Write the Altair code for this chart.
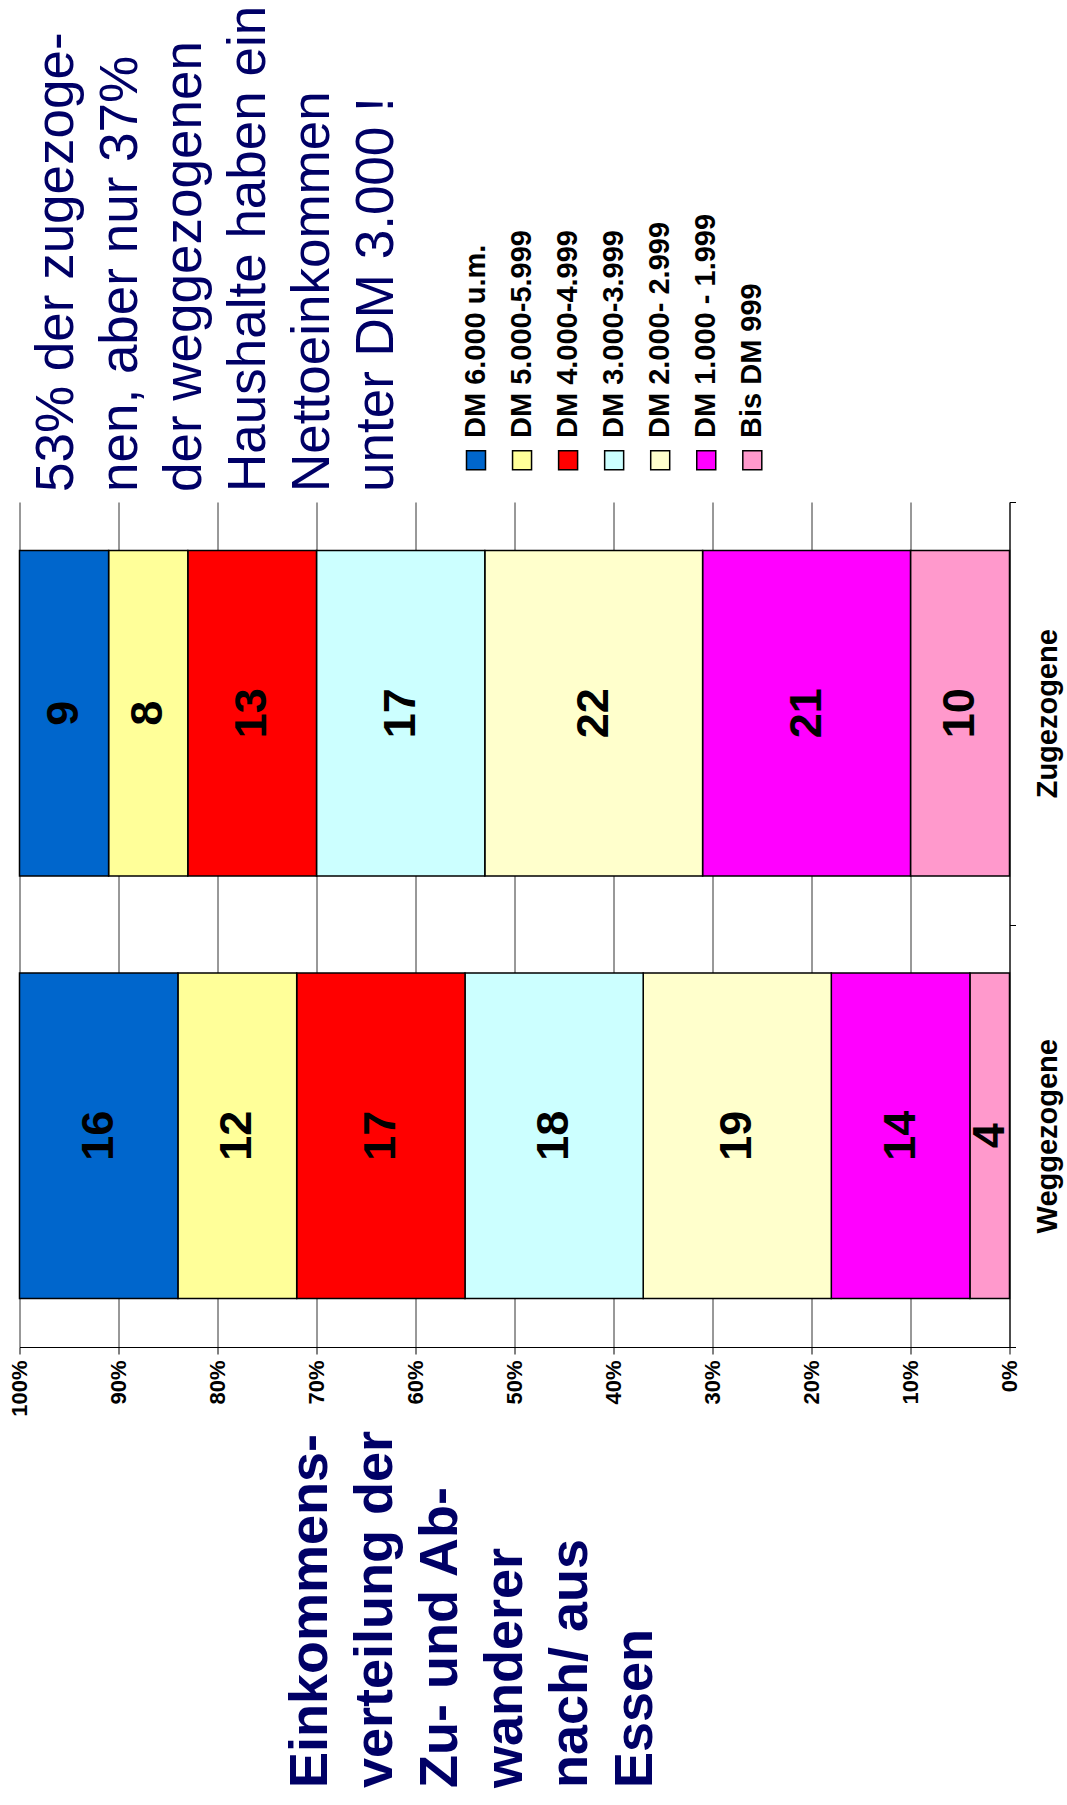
import altair as alt
import pandas as pd

# ---------------- data ----------------
CATEGORIES = ["Zugezogene", "Weggezogene"]
BRACKETS = ["DM 6.000 u.m.", "DM 5.000-5.999", "DM 4.000-4.999", "DM 3.000-3.999",
            "DM 2.000- 2.999", "DM 1.000 - 1.999", "Bis DM 999"]
COLORS = ["#0066CC", "#FFFF99", "#FF0000", "#CCFFFF", "#FFFFCC", "#FF00FF", "#FF99CC"]
ZUGEZOGENE = [9, 8, 13, 17, 22, 21, 10]
WEGGEZOGENE = [16, 12, 17, 18, 19, 14, 4]
PCT_TICKS = [0, 10, 20, 30, 40, 50, 60, 70, 80, 90, 100]
NOTE_LINES = ["53% der zugezoge-", "nen, aber nur 37%", "der weggezogenen",
              "Haushalte haben ein", "Nettoeinkommen", "unter DM 3.000 !"]
TITLE_LINES = ["Einkommens-", "verteilung der", "Zu- und Ab-", "wanderer",
               "nach/ aus", "Essen"]

FONT = "Liberation Sans"
NAVY = "#000066"

# stacked table (stack starts at 0% with "Bis DM 999")
rows = []
for cat, vals in zip(CATEGORIES, [ZUGEZOGENE, WEGGEZOGENE]):
    acc = 0
    for b, v in reversed(list(zip(BRACKETS, vals))):
        rows.append({"cat": cat, "bracket": b, "value": v,
                     "start": acc, "end": acc + v, "mid": acc + v / 2})
        acc += v
df = pd.DataFrame(rows)
legend_df = pd.DataFrame({"bracket": BRACKETS})

color_scale = alt.Scale(domain=BRACKETS, range=COLORS)
x_scale = alt.Scale(domain=[0, 100], reverse=True, nice=False, zero=True)
y_scale = alt.Scale(domain=CATEGORIES, paddingInner=0, paddingOuter=0)

x_axis = alt.Axis(values=PCT_TICKS, labelExpr="datum.value + '%'",
                  labelAngle=270, labelAlign="right", labelBaseline="middle",
                  labelFont=FONT, labelFontSize=22, labelFontWeight="bold",
                  labelColor="black", labelPadding=6,
                  domainColor="black", domainWidth=1,
                  tickColor="black", tickSize=7, tickWidth=1,
                  grid=True, gridColor="#333333", gridWidth=1)
y_axis = alt.Axis(orient="right", labelAngle=270, labelAlign="center",
                  labelBaseline="top", labelFont=FONT, labelFontSize=29,
                  labelFontWeight="bold", labelColor="black", labelPadding=18,
                  labelLimit=0,
                  domainColor="black", domainWidth=1,
                  tickColor="black", tickSize=6, tickBand="extent",
                  grid=False)

bars = alt.Chart(df).mark_bar(stroke="black", strokeWidth=1.5, opacity=1,
                              height=alt.RelativeBandSize(band=0.77)).encode(
    x=alt.X("start:Q", scale=x_scale, title=None, axis=x_axis),
    x2="end:Q",
    y=alt.Y("cat:N", sort=CATEGORIES, scale=y_scale, title=None, axis=y_axis),
    color=alt.Color("bracket:N", scale=color_scale, legend=None),
)

labels = alt.Chart(df).mark_text(angle=270, align="center", baseline="middle",
                                 font=FONT, fontSize=45, fontWeight="bold",
                                 color="black").encode(
    x=alt.X("mid:Q", scale=x_scale, title=None, axis=x_axis),
    y=alt.Y("cat:N", sort=CATEGORIES, scale=y_scale, title=None, axis=y_axis),
    text=alt.Text("value:Q"),
)

main = alt.layer(bars, labels)

leg_x = alt.X("bracket:N", sort=BRACKETS,
              scale=alt.Scale(type="point", domain=BRACKETS,
                              range=[456.5, 732.8], padding=0),
              axis=None)

leg_sq = alt.Chart(legend_df).mark_square(size=361, stroke="black", strokeWidth=1.5,
                                          opacity=1, filled=True).encode(
    x=leg_x,
    y=alt.value(-41.7),
    color=alt.Color("bracket:N", scale=color_scale, legend=None),
)
leg_txt = alt.Chart(legend_df).mark_text(angle=270, align="left", baseline="middle",
                                         font=FONT, fontSize=29, fontWeight="bold",
                                         color="black").encode(
    x=leg_x,
    y=alt.value(-64),
    text="bracket:N",
)
legend = alt.layer(leg_sq, leg_txt)

one = pd.DataFrame({"k": [0]})
note = alt.Chart(one).mark_text(text=NOTE_LINES, angle=270, align="left",
                                baseline="alphabetic", font=FONT, fontSize=53,
                                lineHeight=64, color=NAVY).encode(
    x=alt.value(53.5), y=alt.value(-10))
title = alt.Chart(one).mark_text(text=TITLE_LINES, angle=270, align="left",
                                 baseline="alphabetic", font=FONT, fontSize=54,
                                 fontWeight="bold", lineHeight=65, color=NAVY).encode(
    x=alt.value(307.5), y=alt.value(1286))

chart = alt.layer(main, legend, note, title).resolve_scale(x="independent").properties(
    width=990, height=845,
    autosize=alt.AutoSizeParams(type="none"),
    padding={"left": 19.5, "top": 502, "right": 57.5, "bottom": 458},
    background="white",
).configure_view(stroke=None)

chart.save("out.html", embed_options={"renderer": "svg", "actions": False})
